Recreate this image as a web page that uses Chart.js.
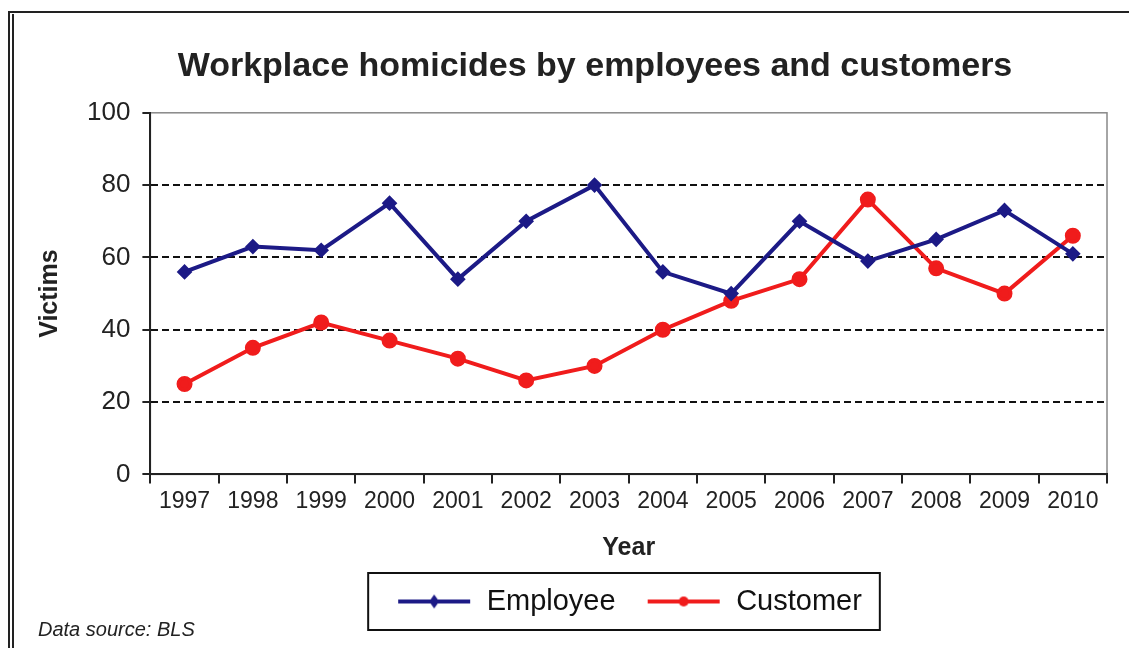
<!DOCTYPE html>
<html>
<head>
<meta charset="utf-8">
<script src="https://cdn.jsdelivr.net/npm/chart.js@4.4.0/dist/chart.umd.min.js"></script>
<style>
  html, body { margin: 0; padding: 0; background: #fff; }
  #wrap { width: 1129px; height: 648px; }
</style>
</head>
<body>
<div id="wrap"><canvas id="chart"></canvas></div>
<script>
// Workplace homicides by employees and customers (BLS)
var years = ['1997', '1998', '1999', '2000', '2001', '2002', '2003', '2004', '2005', '2006', '2007', '2008', '2009', '2010'];
var employee = [56, 63, 62, 75, 54, 70, 80, 56, 50, 70, 59, 65, 73, 61];
var customer = [25, 35, 42, 37, 32, 26, 30, 40, 48, 54, 76, 57, 50, 66];
var yTicks = [0, 20, 40, 60, 80, 100];

var navy = '#1c1a86';
var red = '#f01c1c';
var fontFam = '"Liberation Sans", Arial, sans-serif';

// little legend icon: line with the marker in the middle
function legendIcon(color, style) {
  var c = document.createElement('canvas');
  c.width = 76; c.height = 16;
  var g = c.getContext('2d');
  g.strokeStyle = color; g.lineWidth = 4;
  g.beginPath(); g.moveTo(2, 8); g.lineTo(74, 8); g.stroke();
  g.fillStyle = color;
  g.beginPath();
  if (style === 'circle') {
    g.arc(38, 8, 5, 0, Math.PI * 2);
  } else {
    g.moveTo(38, 1); g.lineTo(43, 8); g.lineTo(38, 15); g.lineTo(33, 8); g.closePath();
  }
  g.fill();
  return c;
}

var framePlugin = {
  id: 'frame',
  afterLayout: function (chart) {
    // title and legend sit right of the canvas centre in the original
    chart.titleBlock.left += 26;
    chart.titleBlock.right += 26;
    chart.legend.left += 60;
    chart.legend.right += 60;
  },
  beforeDraw: function (chart) {
    var ctx = chart.ctx;
    ctx.save();
    ctx.fillStyle = '#fff';
    ctx.fillRect(0, 0, chart.width, chart.height);
    ctx.strokeStyle = '#222';
    ctx.lineWidth = 2;
    ctx.beginPath();
    ctx.moveTo(9, 648); ctx.lineTo(9, 12); ctx.lineTo(1129, 12);
    ctx.moveTo(13, 648); ctx.lineTo(13, 14);
    ctx.stroke();
    var a = chart.chartArea;
    ctx.strokeStyle = '#888';
    ctx.lineWidth = 1.5;
    ctx.strokeRect(a.left, a.top, a.right - a.left, a.bottom - a.top);
    ctx.restore();
  },
  afterDraw: function (chart) {
    var ctx = chart.ctx;
    var boxes = chart.legend.legendHitBoxes;
    if (boxes && boxes.length) {
      var l = Math.min.apply(null, boxes.map(function (b) { return b.left; })) - 28;
      var r = Math.max.apply(null, boxes.map(function (b) { return b.left + b.width; })) + 18;
      var t = boxes[0].top - 14;
      var h = boxes[0].height + 28;
      ctx.save();
      ctx.strokeStyle = '#111';
      ctx.lineWidth = 2;
      ctx.strokeRect(l, t, r - l, h);
      ctx.restore();
    }
    ctx.save();
    ctx.fillStyle = '#222';
    ctx.font = 'italic 20px ' + fontFam;
    ctx.textBaseline = 'middle';
    ctx.fillText('Data source: BLS', 38, 630);
    ctx.restore();
  }
};

var ctx = document.getElementById('chart').getContext('2d');
var chart = new Chart(ctx, {
  type: 'line',
  data: {
    labels: years,
    datasets: [{
      label: 'Employee',
      data: employee,
      borderColor: navy,
      backgroundColor: navy,
      borderWidth: 4,
      pointStyle: 'rectRot',
      pointRadius: 5,
      tension: 0
    }, {
      label: 'Customer',
      data: customer,
      borderColor: red,
      backgroundColor: red,
      borderWidth: 4,
      pointStyle: 'circle',
      pointRadius: 6,
      tension: 0
    }]
  },
  plugins: [framePlugin],
  options: {
    responsive: true,
    maintainAspectRatio: false,
    animation: false,
    layout: { padding: { left: 31, right: 22, top: 38, bottom: 22 } },
    plugins: {
      title: {
        display: true,
        text: 'Workplace homicides by employees and customers',
        color: '#222',
        font: { family: fontFam, size: 34, weight: 'bold' },
        padding: { top: 8, bottom: 26 }
      },
      legend: {
        position: 'bottom',
        labels: {
          color: '#111',
          font: { family: fontFam, size: 29 },
          usePointStyle: true,
          pointStyleWidth: 76,
          boxHeight: 16,
          padding: 30,
          generateLabels: function (c) {
            return c.data.datasets.map(function (ds, i) {
              return {
                text: ds.label,
                fontColor: '#111',
                pointStyle: legendIcon(ds.borderColor, i === 0 ? 'diamond' : 'circle'),
                datasetIndex: i,
                lineWidth: 0,
                strokeStyle: 'transparent',
                fillStyle: 'transparent'
              };
            });
          }
        }
      },
      tooltip: { enabled: false }
    },
    scales: {
      x: {
        offset: true,
        title: {
          display: true,
          text: 'Year',
          color: '#222',
          font: { family: fontFam, size: 25, weight: 'bold' },
          padding: { top: 14, bottom: -6 }
        },
        grid: {
          offset: true,
          drawOnChartArea: false,
          color: '#222',
          tickLength: 9,
          lineWidth: 2
        },
        border: { color: '#222', width: 2 },
        ticks: {
          color: '#222',
          font: { family: fontFam, size: 23 },
          maxRotation: 0,
          autoSkip: false,
          padding: 4
        }
      },
      y: {
        min: 0,
        max: 100,
        afterBuildTicks: function (scale) {
          scale.ticks = yTicks.map(function (v) { return { value: v }; });
        },
        title: {
          display: true,
          text: 'Victims',
          color: '#222',
          font: { family: fontFam, size: 25, weight: 'bold' },
          padding: { bottom: 10 }
        },
        grid: {
          color: function (c) { return (c.tick.value === 0 || c.tick.value === 100) ? 'rgba(0,0,0,0)' : '#111'; },
          lineWidth: 2,
          drawTicks: true,
          tickLength: 8,
          tickColor: '#222',
          tickBorderDash: []
        },
        border: { color: '#222', width: 2, dash: [7, 4] },
        ticks: {
          color: '#222',
          font: { family: fontFam, size: 26 },
          padding: 12
        }
      }
    }
  }
});
</script>
</body>
</html>
